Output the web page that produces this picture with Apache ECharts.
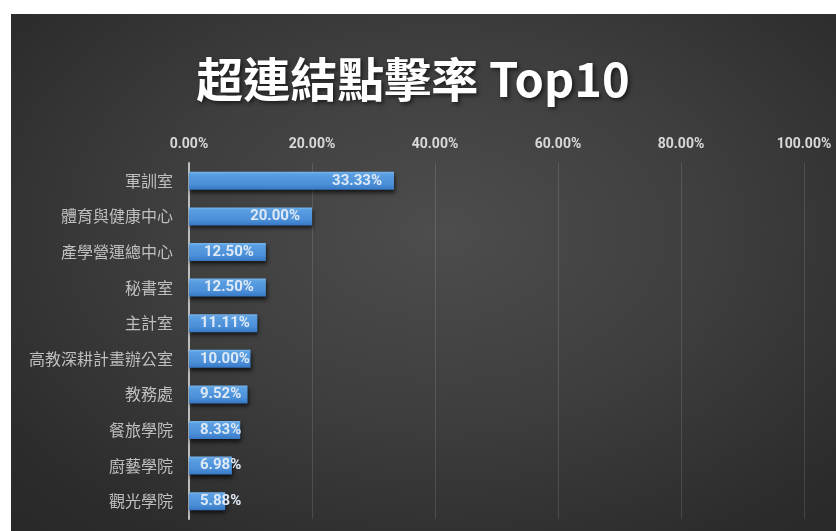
<!DOCTYPE html>
<html>
<head>
<meta charset="utf-8">
<script src="https://cdn.jsdelivr.net/npm/echarts@6/dist/echarts.min.js"></script>
<style>
  html, body { margin: 0; padding: 0; background: #ffffff; }
  #panel {
    position: absolute; left: 11px; top: 14px; width: 825px; height: 517px;
    background: radial-gradient(ellipse 75% 80% at 52% 42%, #4d4d4d 0%, #3e3e3e 45%, #2c2c2c 85%, #282828 100%);
  }
  #chart { width: 825px; height: 517px; }
</style>
</head>
<body>
<div id="panel"><div id="chart"></div></div>
<script>
const titleText = '超連結點擊率 Top10';
const categories = ['軍訓室', '體育與健康中心', '產學營運總中心', '秘書室', '主計室', '高教深耕計畫辦公室', '教務處', '餐旅學院', '廚藝學院', '觀光學院'];
const values = [33.33, 20.00, 12.50, 12.50, 11.11, 10.00, 9.52, 8.33, 6.98, 5.88];
const axisMax = 100;
const axisStep = 20;

const insideThreshold = 12.5;
const numFont = "Roboto, 'Liberation Sans', sans-serif";

const barData = values.map(v => ({
  value: v,
  label: v >= insideThreshold
    ? { position: 'insideRight', distance: 12 }
    : { position: 'insideLeft', distance: 11 }
}));

const chart = echarts.init(document.getElementById('chart'));
chart.setOption({
  backgroundColor: 'transparent',
  animation: false,
  title: {
    text: titleText,
    left: 397,
    textAlign: 'center',
    top: 37,
    textStyle: {
      color: '#ffffff',
      fontSize: 47,
      fontWeight: 'bold',
      fontFamily: "'Noto Sans CJK TC', 'Noto Sans', sans-serif",
      textShadowColor: 'rgba(0,0,0,0.6)',
      textShadowBlur: 4,
      textShadowOffsetX: 2,
      textShadowOffsetY: 2
    }
  },
  grid: { left: 178, right: 32, top: 149, bottom: 12, containLabel: false },
  xAxis: {
    type: 'value',
    position: 'top',
    min: 0,
    max: axisMax,
    interval: axisStep,
    axisLine: { show: false },
    axisTick: { show: false },
    splitLine: { show: true, lineStyle: { color: 'rgba(255,255,255,0.12)', width: 1 } },
    axisLabel: {
      color: '#d9d9d9',
      fontSize: 14,
      fontWeight: 'bold',
      fontFamily: numFont,
      margin: 12,
      formatter: v => v.toFixed(2) + '%'
    }
  },
  yAxis: {
    type: 'category',
    data: categories,
    inverse: true,
    axisLine: { show: true, lineStyle: { color: '#bdbdbd', width: 2 } },
    axisTick: { show: false },
    axisLabel: {
      color: '#bfbfbf',
      fontSize: 16,
      fontFamily: "'Noto Sans CJK TC', sans-serif",
      margin: 16
    }
  },
  series: [{
    type: 'bar',
    data: barData,
    barWidth: 18,
    itemStyle: {
      color: new echarts.graphic.LinearGradient(0, 0, 0, 1, [
        { offset: 0, color: '#78b4ec' },
        { offset: 0.15, color: '#5a9fe2' },
        { offset: 0.7, color: '#4a8fd8' },
        { offset: 1, color: '#3777c4' }
      ]),
      shadowColor: 'rgba(0,0,0,0.65)',
      shadowBlur: 4,
      shadowOffsetX: 1,
      shadowOffsetY: 3
    },
    label: {
      show: true,
      color: '#dfe9f5',
      fontSize: 15,
      fontWeight: 'bold',
      fontFamily: numFont,
      formatter: p => p.value.toFixed(2) + '%'
    }
  }]
});
</script>
</body>
</html>
